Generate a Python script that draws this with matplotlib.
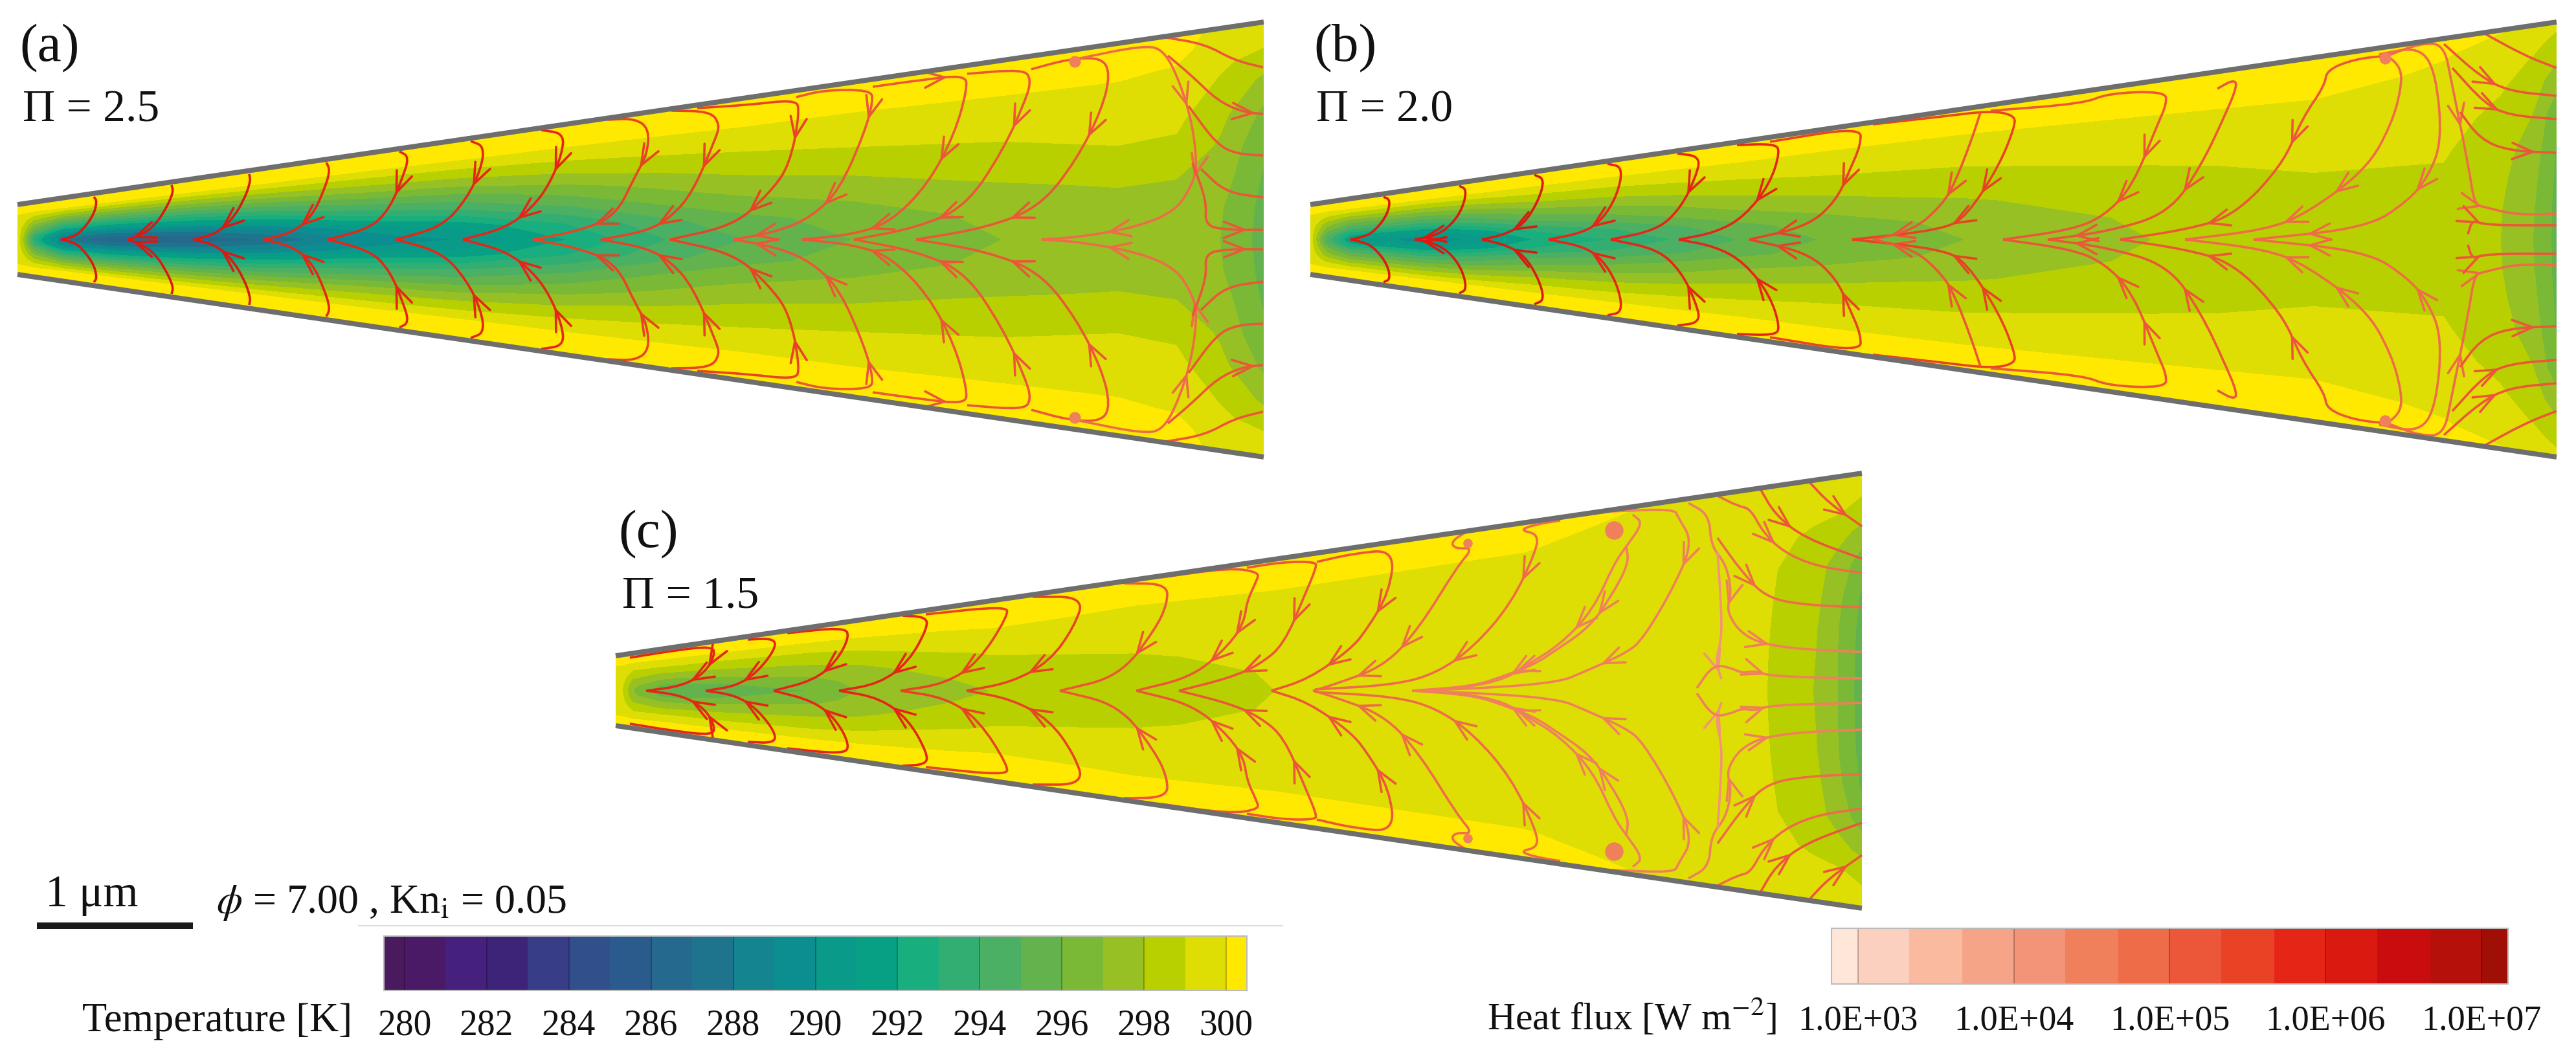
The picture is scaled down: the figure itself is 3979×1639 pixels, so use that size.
import numpy as np
from matplotlib import pyplot as plt
from matplotlib.cm import ScalarMappable
from matplotlib.colors import BoundaryNorm, ListedColormap
from matplotlib.patches import PathPatch
from matplotlib.path import Path

plt.rcParams['font.family'] = ['Liberation Serif', 'DejaVu Serif']
plt.rcParams['mathtext.fontset'] = 'stix'

# lengths are in units of 1/240 um, x from the inlet, y from the axis
wall_h = [54, 336]
fill_h = [50, 332]
wedge_len = 1925

temp_colors = ['#4A1A5E', '#4A1A66', '#45207C', '#3E2478', '#383D88', '#314F8A', '#2A5B8C',
               '#26698E', '#1E748C', '#148490', '#0C8E90', '#0A9A8A', '#08A084', '#18AE7E',
               '#33AE72', '#4CB064', '#62B24E', '#7AB936', '#97C024', '#B9D000', '#DEDE05', '#FFE900']
temp_edges = [279.5] + list(range(280, 301)) + [300.5]
temp_ticks = [280, 282, 284, 286, 288, 290, 292, 294, 296, 298, 300]

flux_colors = ['#FEE6D8', '#FCD0BE', '#F9BAA0', '#F5A488', '#F29478', '#F0805C', '#EE6C48',
               '#EB5738', '#E84324', '#E52617', '#DA1A10', '#C90C0E', '#B5100A', '#A00F05']
flux_edges = [2.83, 3, 3.33, 3.67, 4, 4.33, 4.67, 5, 5.33, 5.67, 6, 6.33, 6.67, 7, 7.17]
flux_ticks = [3, 4, 5, 6, 7]
flux_labels = ['1.0E+03', '1.0E+04', '1.0E+05', '1.0E+06', '1.0E+07']

# fraction of the half height where the temperature columns are read
eta = [0, .15, .3, .45, .6, .75, .85, .93, 1]

a_x = [0, 8, 25, 70, 142, 270, 381, 528, 684, 853, 1005, 1126, 1292, 1522, 1700, 1790, 1857, 1925]
a_temp = [
    [299.6, 299.6, 299.6, 299.6, 299.7, 299.9, 300.3, 300.6, 301],
    [298, 298.2, 298.6, 299, 299.4, 299.8, 300.3, 300.6, 301],
    [293, 294, 295.7, 297, 298.3, 299.4, 300.2, 300.6, 301],
    [287.6, 289.3, 292.3, 294.7, 297, 299, 300.4, 300.9, 301.2],
    [286, 288, 291.3, 294, 296.6, 298.9, 300.4, 301, 301.4],
    [286, 288, 291.3, 294, 296.6, 298.9, 300.4, 301, 301.4],
    [287, 288.8, 291.9, 294.4, 296.9, 299, 300.4, 301, 301.3],
    [289, 290.5, 293.2, 295.3, 297.4, 299.1, 300.3, 300.9, 301.1],
    [290, 291.4, 293.8, 295.7, 297.6, 299.2, 300.3, 300.8, 301],
    [292, 293.1, 295, 296.6, 298.1, 299.4, 300.2, 300.6, 300.9],
    [294, 294.8, 296.3, 297.4, 298.6, 299.5, 300.2, 300.5, 300.7],
    [295, 295.7, 296.9, 297.9, 298.8, 299.6, 300.2, 300.4, 300.5],
    [296, 296.4, 297.3, 298.2, 299, 299.7, 300.1, 300.3, 300.4],
    [297, 297.3, 297.9, 298.5, 299.2, 299.8, 300.1, 300.3, 300.4],
    [297.5, 297.6, 298.1, 298.9, 299.3, 299.8, 300.1, 300.3, 300.4],
    [297.5, 297.7, 298, 298.8, 299.2, 299.7, 299.95, 300.3, 300.4],
    [297, 297.1, 297.5, 297.85, 298.3, 298.85, 299.2, 299.5, 299.7],
    [295.6, 295.7, 295.9, 296.2, 296.8, 297.8, 298.6, 299.3, 299.6],
]

b_x = [0, 8, 25, 60, 175, 250, 346, 467, 563, 662, 786, 1013, 1301, 1550, 1750, 1838, 1888, 1925]
b_temp = [
    [299.6, 299.6, 299.6, 299.6, 299.7, 299.9, 300.3, 300.6, 301],
    [298, 298.2, 298.6, 299, 299.4, 299.8, 300.3, 300.6, 301],
    [294.5, 295.3, 296.6, 297.4, 298.6, 299.5, 300.2, 300.6, 301],
    [291, 292.3, 294.4, 296.1, 297.8, 299.3, 300.3, 300.7, 300.9],
    [289.2, 290.7, 293.3, 295.4, 297.4, 299.1, 300.3, 300.9, 301.1],
    [290, 291.4, 293.8, 295.7, 297.6, 299.2, 300.3, 300.8, 301],
    [292, 293.1, 295, 296.6, 298.1, 299.4, 300.2, 300.6, 300.9],
    [293, 294, 295.7, 297, 298.3, 299.4, 300.2, 300.6, 300.8],
    [294, 294.8, 296.3, 297.4, 298.6, 299.5, 300.2, 300.5, 300.7],
    [295, 295.7, 296.9, 297.9, 298.8, 299.6, 300.2, 300.4, 300.5],
    [296, 296.4, 297.3, 298.2, 299, 299.7, 300.1, 300.3, 300.4],
    [297, 297.3, 297.9, 298.5, 299.1, 299.7, 300.1, 300.3, 300.4],
    [298, 298.2, 298.5, 298.9, 299.4, 299.85, 300.15, 300.3, 300.4],
    [298.5, 298.6, 298.85, 299.15, 299.5, 299.9, 300.2, 300.35, 300.4],
    [298.5, 298.6, 298.85, 299.1, 299.4, 299.7, 299.9, 300.05, 300.2],
    [298, 298.05, 298.2, 298.4, 298.7, 299.15, 299.5, 299.75, 300],
    [297, 297.1, 297.3, 297.6, 298, 298.5, 298.9, 299.3, 299.7],
    [295.7, 295.7, 295.8, 295.95, 296.3, 297.45, 298.15, 298.7, 299.2],
]

c_x = [0, 10, 26, 70, 100, 150, 306, 376, 580, 800, 1020, 1400, 1700, 1778, 1849, 1887, 1925]
c_temp = [
    [299.6, 299.6, 299.6, 299.6, 299.7, 299.9, 300.3, 300.6, 301],
    [299, 299.1, 299.3, 299.5, 299.7, 299.9, 300.2, 300.6, 301],
    [297, 297.2, 297.8, 298.4, 299, 299.5, 300.2, 300.6, 301],
    [295.2, 295.9, 297, 297.9, 298.9, 299.6, 300.3, 300.7, 301],
    [294.9, 295.6, 296.9, 297.9, 298.9, 299.6, 300.3, 300.7, 301],
    [295.2, 295.9, 297, 297.9, 298.8, 299.6, 300.3, 300.7, 301],
    [296, 296.6, 297.3, 298.1, 298.8, 299.7, 300.3, 300.6, 300.8],
    [297, 297.3, 297.7, 298.2, 299, 299.8, 300.3, 300.5, 300.7],
    [298, 298.3, 298.7, 299.1, 299.6, 300.1, 300.3, 300.5, 300.6],
    [298.6, 298.7, 298.9, 299.2, 299.5, 299.9, 300.15, 300.3, 300.4],
    [299, 299.05, 299.2, 299.4, 299.6, 299.95, 300.1, 300.2, 300.3],
    [299.3, 299.35, 299.45, 299.55, 299.7, 299.85, 300.02, 300.1, 300.2],
    [299.3, 299.35, 299.4, 299.45, 299.5, 299.6, 299.7, 299.8, 299.85],
    [299, 299.02, 299.05, 299.1, 299.15, 299.3, 299.5, 299.65, 299.8],
    [298, 298.1, 298.2, 298.35, 298.5, 298.85, 299.2, 299.5, 299.7],
    [297, 297, 297.05, 297.3, 297.6, 298.4, 299.1, 299.4, 299.6],
    [295.5, 295.55, 295.65, 295.85, 296.5, 297.7, 298.7, 299.1, 299.3],
]

# heat flux paths, upper half only, the lower half is the mirror image
a_lines = [
    [(118, 66), (123, 59), (117, 36), (97, 11), (85, 4), (67, 0)],
    [(238, 84), (241, 73), (228, 45), (212, 22), (193, 8), (171, 0)],
    [(358, 101), (360, 89), (349, 59), (330, 29), (305, 8), (272, 0)],
    [(477, 119), (483, 107), (474, 77), (455, 36), (426, 11), (381, 0)],
    [(590, 136), (605, 128), (595, 96), (576, 50), (547, 18), (480, 0)],
    [(700, 152), (721, 144), (716, 109), (694, 63), (656, 20), (585, 0)],
    [(809, 169), (844, 164), (841, 132), (822, 86), (796, 50), (755, 18), (688, 0)],
    [(911, 185), (955, 187), (976, 170), (972, 130), (955, 100), (924, 36), (866, 13), (796, 0)],
    [(1010, 199), (1070, 198), (1085, 178), (1078, 155), (1043, 73), (1011, 36), (973, 13), (901, 0)],
    [(1050, 203), (1130, 208), (1200, 216), (1209, 201), (1193, 114), (1158, 68), (1107, 22), (1008, 0)],
    [(1203, 220), (1247, 231), (1317, 231), (1322, 215), (1308, 164), (1270, 77), (1228, 36), (1177, 13), (1107, 0)],
    [(1321, 236), (1400, 247), (1464, 254), (1467, 233), (1448, 164), (1407, 86), (1349, 27), (1292, 8), (1212, 0)],
    [(1467, 256), (1554, 263), (1566, 247), (1557, 215), (1522, 137), (1464, 50), (1388, 18), (1292, 0)],
    [(1566, 263), (1624, 279), (1675, 281), (1688, 256), (1675, 201), (1636, 123), (1579, 50), (1496, 18), (1388, 0)],
    [(1636, 279), (1739, 300), (1771, 293), (1796, 242), (1815, 178), (1822, 114), (1815, 86), (1790, 45), (1732, 20), (1643, 4), (1582, 0)],
    [(1774, 312), (1834, 302), (1879, 277), (1924, 266)],
    [(1777, 284), (1815, 252), (1853, 215), (1892, 197), (1924, 194)],
    [(1809, 206), (1853, 146), (1885, 132), (1924, 130)],
    [(1828, 109), (1866, 73), (1924, 65)],
    [(1815, 118), (1837, 59), (1834, 22), (1866, 15), (1924, 15)],
]
a_arrows = [[], [4], [3], [3], [2], [2], [2, 4], [3, 5], [3, 5], [3, 5], [3, 5, 7], [1, 4, 6], [3, 5], [4, 6],
            [3, 5, 8], [], [3], [], [], [3]]
a_flux = [6, 6, 6, 5.9, 5.9, 5.8, 5.7, 5.6, 5.5, 5.4, 5.3, 5.2, 5.1, 5, 4.8, 5.3, 5.3, 5.3, 5.3, 5.3]
a_blobs = [(1633, 275)]
a_blob_sizes = [170]

b_lines = [
    [(113, 66), (124, 61), (118, 36), (97, 11), (81, 4), (62, 0)],
    [(230, 83), (242, 77), (234, 45), (215, 20), (193, 6), (161, 0)],
    [(346, 100), (362, 93), (352, 59), (330, 24), (301, 8), (265, 0)],
    [(459, 117), (483, 112), (474, 68), (451, 31), (423, 11), (368, 0)],
    [(567, 133), (603, 128), (595, 96), (573, 50), (537, 15), (464, 0)],
    [(659, 146), (716, 148), (726, 137), (710, 86), (671, 36), (627, 11), (569, 0)],
    [(710, 151), (850, 174), (850, 146), (834, 109), (812, 59), (767, 20), (678, 0)],
    [(869, 178), (976, 190), (1051, 199), (1088, 192), (1088, 174), (1064, 114), (1014, 36), (976, 15), (837, 0)],
    [(1035, 196), (1020, 150), (995, 86), (976, 54), (933, 15), (869, 0)],
    [(1051, 199), (1195, 210), (1232, 226), (1320, 229), (1323, 210), (1307, 174), (1270, 82), (1226, 36), (1176, 15), (1070, 0)],
    [(1401, 233), (1426, 247), (1432, 238), (1413, 192), (1376, 114), (1326, 40), (1230, 12), (1139, 0)],
    [(1664, 284), (1614, 279), (1570, 262), (1567, 238), (1532, 187), (1501, 114), (1426, 36), (1351, 15), (1251, 0)],
    [(1664, 284), (1685, 265), (1685, 233), (1670, 178), (1632, 109), (1539, 40), (1476, 15), (1351, 0)],
    [(1651, 286), (1714, 298), (1739, 256), (1748, 151), (1726, 96), (1695, 59), (1632, 18), (1457, 0)],
    [(1664, 284), (1714, 303), (1751, 302), (1763, 242), (1789, 114), (1798, 54), (1814, 50), (1863, 38), (1925, 40)],
    [(1814, 318), (1876, 284), (1925, 265)],
    [(1751, 302), (1807, 252), (1851, 229), (1925, 222)],
    [(1764, 265), (1814, 210), (1851, 192), (1925, 186)],
    [(1776, 197), (1807, 155), (1851, 137), (1925, 134)],
    [(1788, 8), (1795, 31), (1814, 22), (1925, 22)],
]
b_arrows = [[], [4], [3], [3], [2], [3], [3, 5], [5, 6], [2, 4], [5, 6], [4, 6], [4, 6], [4, 5], [4, 6], [3, 5],
            [], [1], [1], [2], [1]]
b_flux = [6, 6, 6, 5.9, 5.8, 5.8, 5.6, 5.5, 5.3, 5.3, 5.1, 5, 4.9, 4.8, 4.7, 5.3, 5.3, 5.3, 5.3, 5.3]
b_blobs = [(1660, 280)]
b_blob_sizes = [170]

c_lines = [
    [(22, 51), (89, 62), (150, 69), (153, 54), (137, 27), (102, 7), (47, 0)],
    [(204, 79), (246, 81), (246, 63), (217, 27), (185, 7), (139, 0)],
    [(265, 89), (351, 98), (362, 85), (341, 45), (306, 16), (244, 0)],
    [(443, 116), (479, 114), (482, 98), (453, 45), (408, 11), (345, 0)],
    [(479, 118), (603, 131), (606, 116), (561, 45), (510, 11), (440, 0)],
    [(644, 145), (724, 145), (708, 98), (670, 45), (612, 13), (542, 0)],
    [(785, 166), (852, 165), (852, 134), (833, 94), (778, 22), (686, 0)],
    [(842, 175), (949, 190), (994, 183), (990, 170), (975, 138), (971, 107), (949, 72), (893, 22), (804, 0)],
    [(975, 190), (1032, 199), (1080, 199), (1083, 192), (1064, 147), (1032, 71), (994, 40), (949, 20), (870, 0)],
    [(1083, 199), (1140, 212), (1203, 218), (1195, 152), (1160, 94), (1134, 63), (1070, 18), (1013, 0)],
    [(1313, 245), (1290, 230), (1297, 219), (1325, 221), (1300, 192), (1242, 98), (1188, 38), (1108, 9), (1077, 0)],
    [(1459, 263), (1421, 257), (1396, 248), (1425, 242), (1421, 214), (1383, 134), (1325, 67), (1268, 27), (1204, 9), (1080, 2)],
    [(1539, 277), (1635, 281), (1641, 268), (1664, 230), (1635, 161), (1587, 80), (1561, 58), (1491, 27), (1459, 14), (1364, 5), (1230, 0)],
    [(1571, 272), (1587, 259), (1561, 223), (1542, 196), (1510, 125), (1459, 71), (1408, 40), (1364, 13), (1268, 0)],
    [(1561, 223), (1565, 196), (1536, 143), (1504, 98), (1453, 63), (1418, 40), (1370, 22), (1325, 7), (1230, 0)],
    [(1657, 290), (1689, 272), (1692, 223), (1715, 196), (1724, 152), (1715, 121), (1746, 80), (1810, 65), (1925, 60)],
    [(1702, 214), (1708, 125), (1708, 80), (1699, 45), (1708, 18)],
    [(1702, 301), (1734, 285), (1753, 281), (1772, 245), (1804, 214), (1855, 192), (1925, 182)],
    [(1769, 310), (1791, 272), (1836, 236), (1925, 204)],
    [(1845, 321), (1874, 290), (1925, 254)],
    [(1702, 236), (1740, 183), (1778, 143), (1842, 132), (1925, 129)],
    [(1670, 4), (1695, 40), (1721, 36), (1740, 27), (1759, 31), (1785, 22), (1925, 19)],
]
c_arrows = [[3, 4], [3], [3], [3], [3], [3], [3], [5, 6], [4, 6], [3, 5], [5, 6], [4, 6], [3, 6], [4, 6], [2, 5], [4, 6],
            [3], [3], [1], [1], [1], [4]]
c_flux = [5.9, 5.9, 5.8, 5.7, 5.6, 5.5, 5.3, 5.2, 5.1, 5, 4.7, 4.7, 4.5, 4.5, 4.5, 4.6, 4.2, 4.8, 5, 5, 4.9, 4.6]
c_blobs = [(1542, 248), (1316, 228)]
c_blob_sizes = [420, 110]

fig_w, fig_h = 3980, 1640
fig = plt.figure(figsize=(39.8, 16.4), dpi=100)

temp_cmap = ListedColormap(temp_colors)
temp_norm = BoundaryNorm(temp_edges, temp_cmap.N)
flux_cmap = ListedColormap(flux_colors)
flux_norm = BoundaryNorm(flux_edges, flux_cmap.N)


def smooth_path(pts):
    # quadratic pieces through the segment midpoints
    pts = np.array(pts, dtype=float)
    verts = [pts[0], (pts[0] + pts[1]) / 2]
    codes = [Path.MOVETO, Path.LINETO]
    for i in range(1, len(pts) - 1):
        verts += [pts[i], (pts[i] + pts[i + 1]) / 2]
        codes += [Path.CURVE3, Path.CURVE3]
    verts.append(pts[-1])
    codes.append(Path.LINETO)
    return Path(verts, codes)


def draw_arrow(ax, p0, p1, color):
    p0, p1 = np.array(p0, dtype=float), np.array(p1, dtype=float)
    tip = (p0 + p1) / 2
    ang = np.arctan2(*(p0 - p1)[::-1])
    for d in (-0.38, 0.38):
        end = tip + 34 * np.array([np.cos(ang + d), np.sin(ang + d)])
        ax.plot([tip[0], end[0]], [tip[1], end[1]], color=color, lw=2.6, solid_capstyle='round', clip_on=False)


def draw_panel(left, yc, xs, temp, lines, arrows, flux, blobs, blob_sizes):
    ax = fig.add_axes([left / fig_w, (fig_h - yc - 345) / fig_h, wedge_len / fig_w, 690 / fig_h])
    ax.set_xlim(0, wedge_len)
    ax.set_ylim(-345, 345)
    ax.axis('off')

    xs = np.array(xs, dtype=float)
    half = np.interp(xs, [0, wedge_len], fill_h)
    frac = np.array(eta)
    frac = np.concatenate([-frac[:0:-1], frac])
    T = np.array(temp)
    T = np.hstack([T[:, :0:-1], T])
    X = np.repeat(xs[:, None], len(frac), axis=1)
    Y = half[:, None] * frac[None, :]
    cs = ax.contourf(X, Y, T, levels=temp_edges[1:-1] + [320], colors=temp_colors[1:-1] + [temp_colors[-1]])
    cs.set_edgecolor('face')
    cs.set_linewidth(0.6)

    for sign in (1, -1):
        ax.plot([0, wedge_len], [sign * wall_h[0], sign * wall_h[1]], color='#6E6E6E', lw=5.6,
                solid_capstyle='butt', clip_on=False, zorder=5)
        for pts, arr, f in zip(lines, arrows, flux):
            pts = [(x, sign * y) for x, y in pts]
            color = flux_cmap(flux_norm(f))
            ax.add_patch(PathPatch(smooth_path(pts), fc='none', ec=color, lw=2.6, clip_on=False, zorder=3))
            for i in arr:
                draw_arrow(ax, pts[i], pts[i + 1], color)
        for (x, y), s in zip(blobs, blob_sizes):
            ax.scatter([x], [sign * y], s=s, color='#F0805C', lw=0, zorder=4)
    return ax


draw_panel(27, 371, a_x, a_temp, a_lines, a_arrows, a_flux, a_blobs, a_blob_sizes)
draw_panel(2024, 371, b_x, b_temp, b_lines, b_arrows, b_flux, b_blobs, b_blob_sizes)
draw_panel(951, 1068, c_x, c_temp, c_lines, c_arrows, c_flux, c_blobs, c_blob_sizes)


def put_text(x, y, s, size, **kw):
    fig.text(x / fig_w, 1 - y / fig_h, s, fontsize=size, color='#111111', va='baseline', **kw)


put_text(30, 94, '(a)', 60)
put_text(35, 187, 'Π = 2.5', 50)
put_text(2029, 94, '(b)', 60)
put_text(2033, 187, 'Π = 2.0', 50)
put_text(955, 845, '(c)', 60)
put_text(961, 939, 'Π = 1.5', 50)

# scale bar and run parameters
put_text(70, 1400, '1 μm', 50)
bar_ax = fig.add_axes([57 / fig_w, 1 - 1436 / fig_h, 241 / fig_w, 10 / fig_h])
bar_ax.axis('off')
bar_ax.set_xlim(0, 1)
bar_ax.set_ylim(0, 1)
bar_ax.fill_between([0, 1], 0, 1, color='#1A1A1A', lw=0)
put_text(334, 1410, r'$\phi$ = 7.00 , Kn$_{\mathrm{i}}$ = 0.05', 46)
fig.add_artist(plt.Line2D([554 / fig_w, 1981 / fig_w], [1 - 1431 / fig_h] * 2, color='#DDDDDD', lw=1.5))


def draw_bar(x0, x1, y0, y1, cmap, norm, ticks, labels, size, pad):
    cax = fig.add_axes([x0 / fig_w, 1 - y1 / fig_h, (x1 - x0) / fig_w, (y1 - y0) / fig_h])
    cb = fig.colorbar(ScalarMappable(norm=norm, cmap=cmap), cax=cax, orientation='horizontal',
                      spacing='proportional', ticks=ticks)
    cb.ax.set_xticklabels(labels)
    cb.ax.tick_params(length=0, labelsize=size, pad=pad, labelcolor='#111111')
    cb.outline.set_edgecolor('#BBBBBB')
    cb.outline.set_linewidth(1.5)
    cb.ax.minorticks_off()
    for t in ticks:
        cb.ax.axvline(t, color='#000000', alpha=0.3, lw=1.2)


draw_bar(593, 1926, 1447, 1531, temp_cmap, temp_norm, temp_ticks, [str(t) for t in temp_ticks], 40, 20)
draw_bar(2829, 3874, 1435, 1521, flux_cmap, flux_norm, flux_ticks, flux_labels, 39, 22)
put_text(127, 1593, 'Temperature [K]', 45)
put_text(2297, 1590, 'Heat flux [W m$^{-2}$]', 43)

fig.savefig('out.png', dpi=100, facecolor='white')
